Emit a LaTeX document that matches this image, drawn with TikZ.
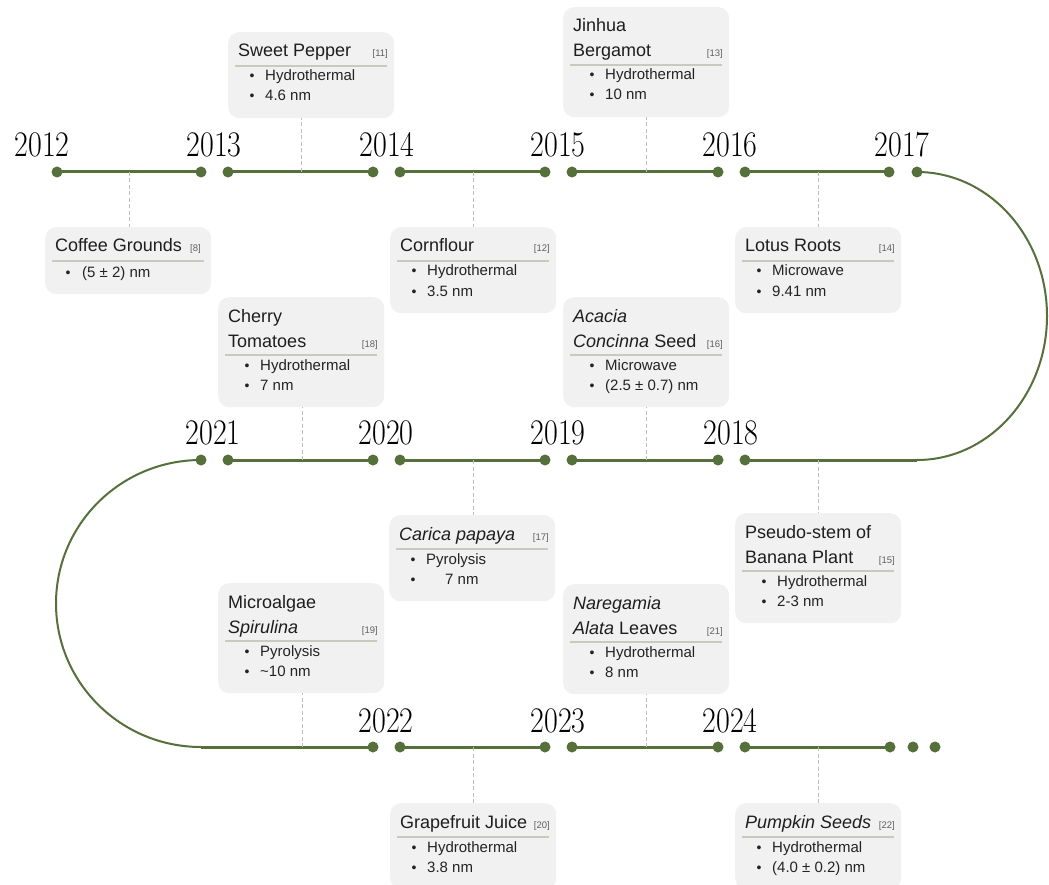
\documentclass[tikz,border=0pt]{standalone}
\usepackage{fontspec}
\newfontfamily\lsans{Liberation Sans}
\definecolor{tlgreen}{RGB}{86,112,60}
\definecolor{cardc}{RGB}{241,241,241}
\definecolor{sepc}{RGB}{200,202,190}
\definecolor{connc}{RGB}{190,190,190}
\definecolor{titlec}{RGB}{30,30,30}
\definecolor{itemc}{RGB}{35,35,35}
\definecolor{refc}{RGB}{95,95,95}
\tikzset{
  dot/.style={circle, fill=tlgreen, inner sep=0pt, minimum size=11pt},
  seg/.style={draw=tlgreen, line width=3pt},
  arcline/.style={draw=tlgreen, line width=2pt},
  conn/.style={draw=connc, line width=0.9pt, dash pattern=on 4pt off 2.5pt},
  card/.style={fill=cardc, rounded corners=11pt, anchor=north west, minimum width=166pt, inner sep=0pt, draw=none},
  ttl/.style={anchor=base west, inner sep=0pt, font=\lsans\fontsize{18}{20}\selectfont, text=titlec},
  refl/.style={anchor=base east, inner sep=0pt, font=\lsans\fontsize{9.5}{11}\selectfont, text=refc},
  itm/.style={anchor=base west, inner sep=0pt, font=\lsans\fontsize{15}{17}\selectfont, text=itemc},
  bul/.style={anchor=base, inner sep=0pt, font=\lsans\fontsize{14}{15}\selectfont, text=itemc},
  sepl/.style={draw=sepc, line width=1.4pt},
  yrl/.style={anchor=base, inner sep=0pt, font=\fontsize{30}{32}\selectfont, text=black},
}
\newcommand\yr[1]{\scalebox{1}[1.2]{#1}}
% one-line title, two items
\newcommand\cardone[7]{%
\begin{scope}[shift={(#2,#3)}]
\node[card, minimum height=86pt] (#1) at (0,0) {};
\node[ttl] (#1-t) at (10,25) {#4};
\node[refl] (#1-r) at (160,25) {#5};
\draw[sepl] (7,34) -- (159,34);
\node[bul] (#1-b1) at (24,49) {•};
\node[itm] (#1-i1) at (37,49) {#6};
\node[bul] (#1-b2) at (24,69) {•};
\node[itm] (#1-i2) at (37,69) {#7};
\end{scope}}
% two-line title, two items
\newcommand\cardtwo[8]{%
\begin{scope}[shift={(#2,#3)}]
\node[card, minimum height=110pt] (#1) at (0,0) {};
\node[ttl] (#1-t) at (10,25) {#4};
\node[ttl] (#1-u) at (10,50) {#5};
\node[refl] (#1-r) at (160,50) {#6};
\draw[sepl] (7,58) -- (159,58);
\node[bul] (#1-b1) at (29,73) {•};
\node[itm] (#1-i1) at (42,73) {#7};
\node[bul] (#1-b2) at (29,93) {•};
\node[itm] (#1-i2) at (42,93) {#8};
\end{scope}}
\begin{document}
\begin{tikzpicture}[x=1pt,y=-1pt]
\useasboundingbox (0,0) rectangle (1049,885);
\clip (0,0) rectangle (1049,885);
\fill[white] (0,0) rectangle (1049,885);

% ---------- row 1 ----------
\foreach \n/\x in {a1/57,a2/201,a3/228,a4/373,a5/400,a6/545,a7/572,a8/718,a9/745,a10/889,a11/917}
  \node[dot] (\n) at (\x,172) {};
\draw[seg] (a1.center) -- (a2.center);
\draw[seg] (a3.center) -- (a4.center);
\draw[seg] (a5.center) -- (a6.center);
\draw[seg] (a7.center) -- (a8.center);
\draw[seg] (a9.center) -- (a10.center);
\foreach \t/\x in {2012/42,2013/214,2014/387,2015/558,2016/730,2017/902}
  \node[yrl] (y\t) at (\x,157) {\yr{\t}};

% ---------- row 2 ----------
\foreach \n/\x in {b1/201,b2/228,b3/373,b4/400,b5/545,b6/572,b7/718,b8/745}
  \node[dot] (\n) at (\x,460) {};
\coordinate (b9) at (917,460);
\draw[seg] (b2.center) -- (b3.center);
\draw[seg] (b4.center) -- (b5.center);
\draw[seg] (b6.center) -- (b7.center);
\draw[seg] (b8.center) -- (b9);
\foreach \t/\x in {2021/213,2020/386,2019/558,2018/731}
  \node[yrl] (y\t) at (\x,444) {\yr{\t}};

% ---------- row 3 ----------
\coordinate (c0) at (201,747);
\foreach \n/\x in {c1/373,c2/400,c3/545,c4/572,c5/718,c6/745,c7/890,c8/913,c9/935}
  \node[dot] (\n) at (\x,747) {};
\draw[seg] (c0) -- (c1.center);
\draw[seg] (c2.center) -- (c3.center);
\draw[seg] (c4.center) -- (c5.center);
\draw[seg] (c6.center) -- (c7.center);
\foreach \t/\x in {2022/386,2023/558,2024/730}
  \node[yrl] (y\t) at (\x,732) {\yr{\t}};

% ---------- turning arcs ----------
\draw[arcline] (a11.center) .. controls (988.8,172) and (1047,236.5) .. (1047,316)
                             .. controls (1047,395.5) and (988.8,460) .. (b9);
\draw[arcline] (b1.center) .. controls (120.9,460) and (56,524.2) .. (56,603.5)
                            .. controls (56,682.8) and (120.9,747) .. (c0);

% ---------- cards ----------
\begin{scope}[shift={(45,227)}]
\node[card, minimum height=67pt] (cg) at (0,0) {};
\node[ttl] (cg-t) at (10,25) {Coffee Grounds};
\node[refl] (cg-r) at (156,25) {[8]};
\draw[sepl] (7,34) -- (159,34);
\node[bul] (cg-b1) at (23,50) {•};
\node[itm] (cg-i1) at (37,50) {(5 ± 2) nm};
\end{scope}
\cardone{sp}{228}{32}{Sweet Pepper}{[11]}{Hydrothermal}{4.6 nm}
\cardone{cf}{390}{227}{Cornflour}{[12]}{Hydrothermal}{3.5 nm}
\cardtwo{jb}{563}{7}{Jinhua}{Bergamot}{[13]}{Hydrothermal}{10 nm}
\cardone{lr}{735}{227}{Lotus Roots}{[14]}{Microwave}{9.41 nm}
\cardtwo{ct}{218}{297}{Cherry}{Tomatoes}{[18]}{Hydrothermal}{7 nm}
\cardtwo{ac}{563}{297}{\itshape Acacia}{{\itshape Concinna} Seed}{[16]}{Microwave}{(2.5 ± 0.7) nm}
\cardone{cp}{389}{515}{\itshape Carica papaya}{[17]}{Pyrolysis}{\hspace*{19pt}7 nm}
\cardtwo{ps}{735}{513}{Pseudo-stem of}{Banana Plant}{[15]}{Hydrothermal}{2-3 nm}
\cardtwo{ms}{218}{583}{Microalgae}{\itshape Spirulina}{[19]}{Pyrolysis}{\textasciitilde10 nm}
\cardtwo{na}{563}{584}{\itshape Naregamia}{{\itshape Alata} Leaves}{[21]}{Hydrothermal}{8 nm}
\cardone{gj}{390}{803}{Grapefruit Juice}{[20]}{Hydrothermal}{3.8 nm}
\cardone{pk}{735}{803}{\itshape Pumpkin Seeds}{[22]}{Hydrothermal}{(4.0 ± 0.2) nm}

% ---------- dashed connectors ----------
\foreach \m/\x/\y in {m1/129/172,m2/301/172,m3/473/172,m4/646/172,m5/818/172,
                      m6/302/460,m7/473/460,m8/646/460,m9/818/460,
                      m10/302/747,m11/473/747,m12/646/747,m13/818/747}
  \coordinate (\m) at (\x,\y);
\draw[conn] (m1) -- (m1 |- cg.north);
\draw[conn] (m2) -- (m2 |- sp.south);
\draw[conn] (m3) -- (m3 |- cf.north);
\draw[conn] (m4) -- (m4 |- jb.south);
\draw[conn] (m5) -- (m5 |- lr.north);
\draw[conn] (m6) -- (m6 |- ct.south);
\draw[conn] (m7) -- (m7 |- cp.north);
\draw[conn] (m8) -- (m8 |- ac.south);
\draw[conn] (m9) -- (m9 |- ps.north);
\draw[conn] (m10) -- (m10 |- ms.south);
\draw[conn] (m11) -- (m11 |- gj.north);
\draw[conn] (m12) -- (m12 |- na.south);
\draw[conn] (m13) -- (m13 |- pk.north);
\end{tikzpicture}
\end{document}
